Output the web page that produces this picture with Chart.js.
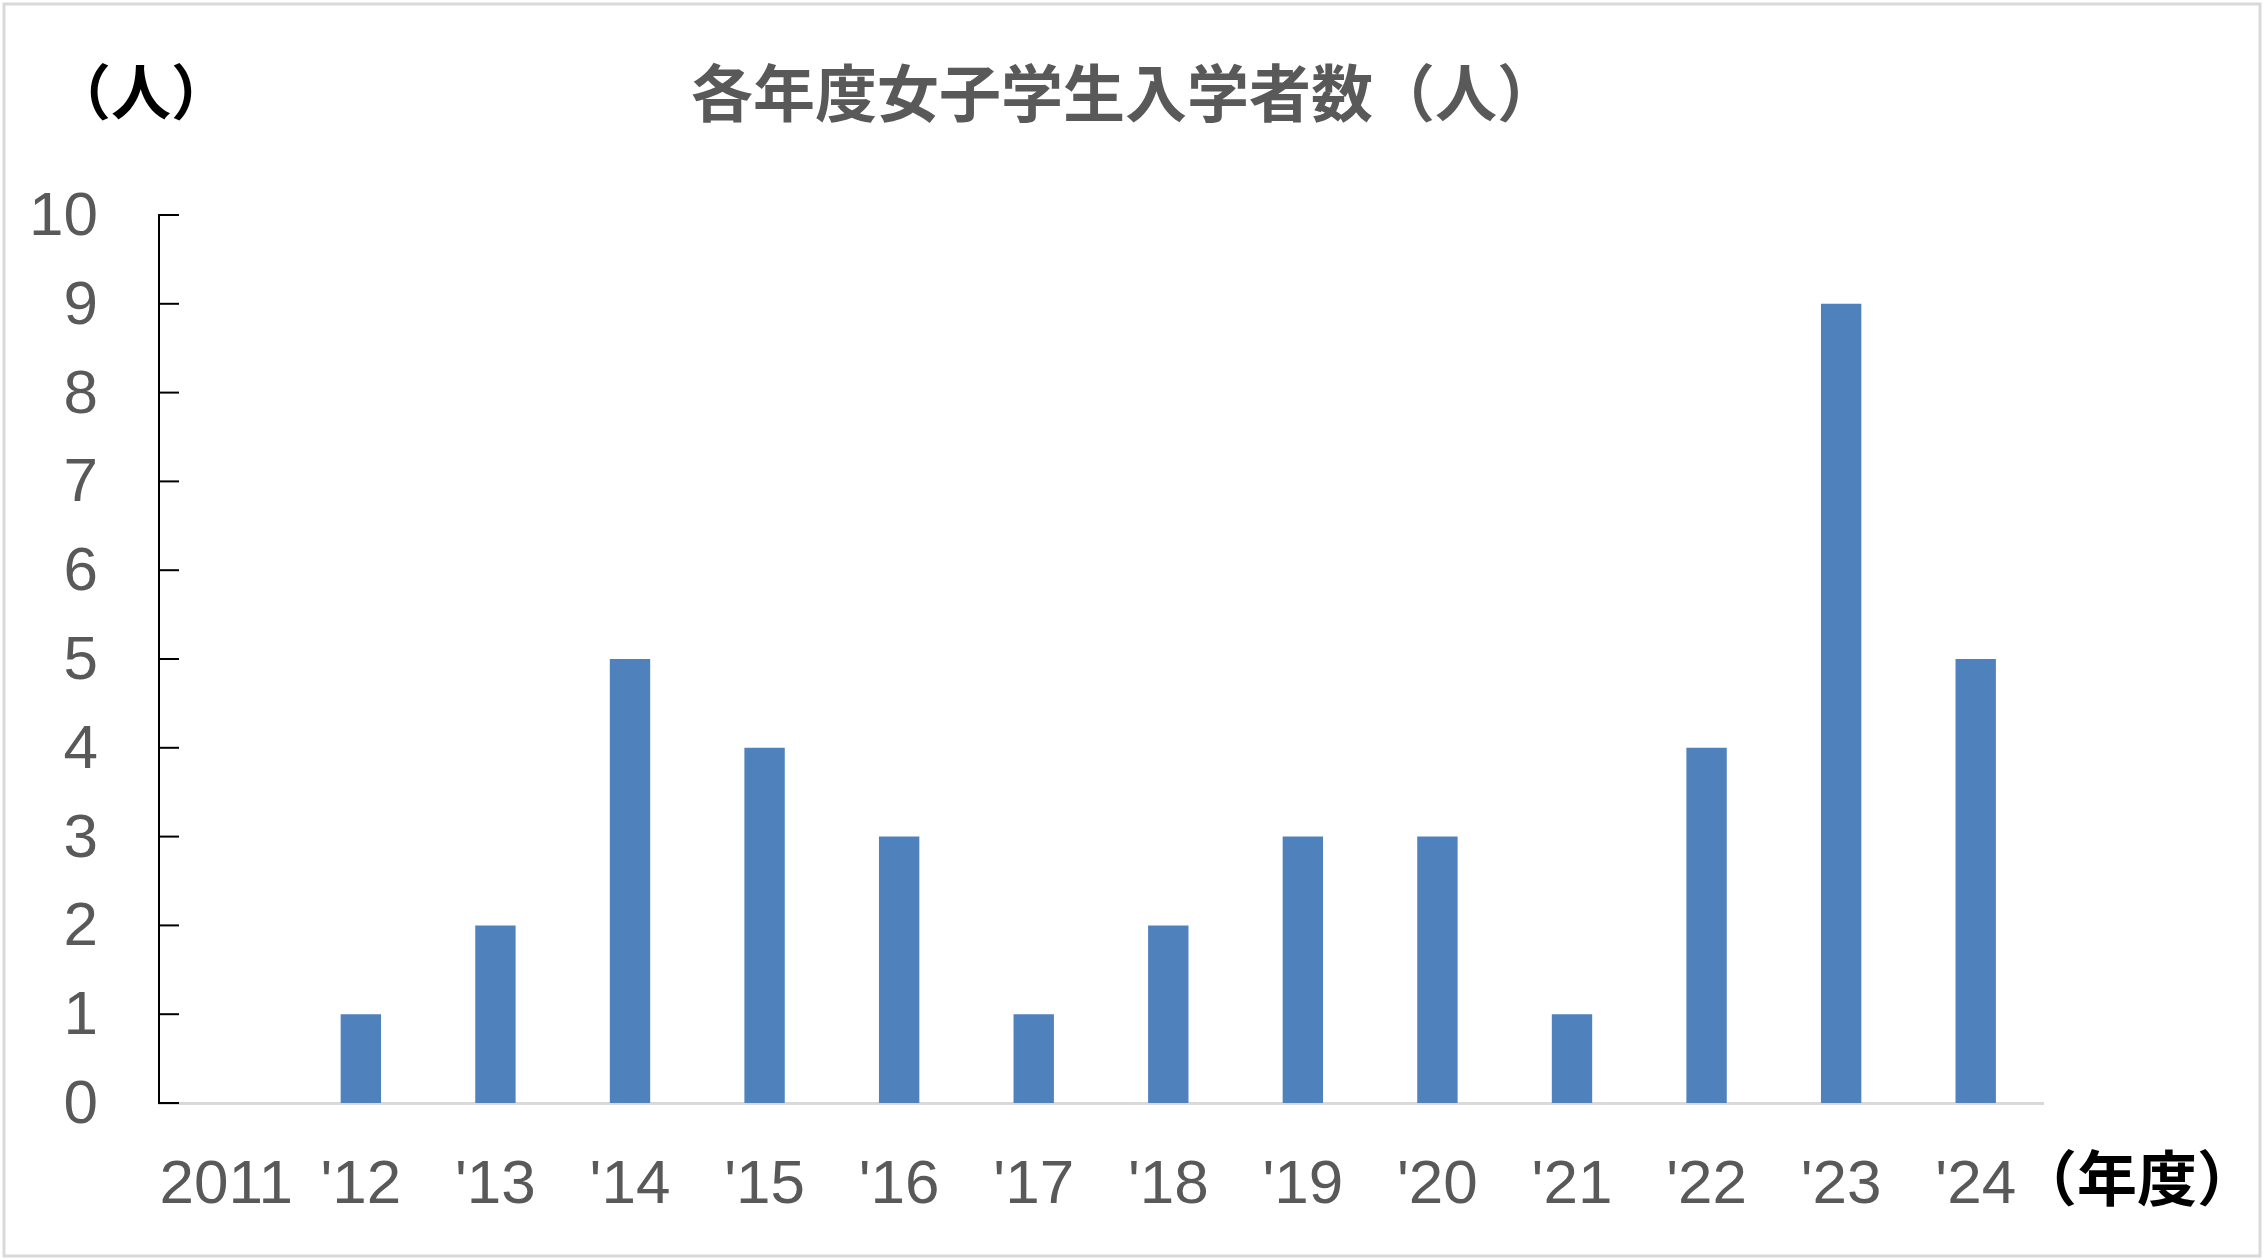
<!DOCTYPE html>
<html>
<head>
<meta charset="utf-8">
<script src="https://cdn.jsdelivr.net/npm/chart.js@4.4.1/dist/chart.umd.min.js"></script>
<style>
    html, body { margin: 0; padding: 0; background: #ffffff; }
    #wrap { width: 2264px; height: 1260px; }
</style>
</head>
<body>
<div id="wrap"><canvas id="barChart" width="2264" height="1260"></canvas></div>
<script>
    // data
    const years = ["2011", "'12", "'13", "'14", "'15", "'16", "'17", "'18", "'19", "'20", "'21", "'22", "'23", "'24"];
    const students = [0, 1, 2, 5, 4, 3, 1, 2, 3, 3, 1, 4, 9, 5];
    const yMin = 0;
    const yMax = 10;
    const yStep = 1;

    const chartTitle = "各年度女子学生入学者数（人）";
    const yUnit = "（人）";
    const xUnit = "（年度）";

    const numFont = '"Liberation Sans Narrow", "Liberation Sans", sans-serif';
    const jpFont = '"Noto Sans CJK JP", "Noto Sans", sans-serif';

    // white page + thin frame, titles, inward ticks on the y axis
    const decor = {
        id: "decor",
        beforeDraw: function (chart) {
            const ctx = chart.ctx;
            ctx.save();
            ctx.fillStyle = "#ffffff";
            ctx.fillRect(0, 0, chart.width, chart.height);
            ctx.strokeStyle = "#d9d9d9";
            ctx.lineWidth = 3;
            ctx.strokeRect(4, 4, chart.width - 8, chart.height - 8);
            ctx.restore();
        },
        afterDraw: function (chart) {
            const ctx = chart.ctx;
            const area = chart.chartArea;
            const y = chart.scales.y;

            ctx.save();
            ctx.strokeStyle = "#000000";
            ctx.lineWidth = 2;
            y.ticks.forEach(function (t) {
                const py = y.getPixelForValue(t.value);
                ctx.beginPath();
                ctx.moveTo(area.left, py);
                ctx.lineTo(area.left + 20, py);
                ctx.stroke();
            });

            ctx.textAlign = "center";
            ctx.textBaseline = "middle";
            ctx.font = "bold 62px " + jpFont;
            ctx.fillStyle = "#595959";
            ctx.fillText(chartTitle, 1125, 93);

            ctx.fillStyle = "#000000";
            ctx.font = "bold 60px " + jpFont;
            ctx.fillText(yUnit, 141, 92);
            ctx.fillText(xUnit, 2137, 1178);
            ctx.restore();
        },
    };

    const chart = new Chart(document.getElementById("barChart"), {
        type: "bar",
        plugins: [decor],
        data: {
            labels: years,
            datasets: [
                {
                    label: "女子学生入学者数",
                    data: students,
                    backgroundColor: "#4f81bd",
                    borderWidth: 0,
                    barPercentage: 0.3,
                    categoryPercentage: 1,
                },
            ],
        },
        options: {
            responsive: false,
            devicePixelRatio: 1,
            animation: false,
            layout: {
                padding: { left: 0, top: 215, right: 221, bottom: 0 },
            },
            plugins: {
                legend: { display: false },
                title: { display: false },
                tooltip: { enabled: false },
            },
            scales: {
                x: {
                    grid: { display: false, drawTicks: false },
                    border: { display: true, color: "#d9d9d9", width: 3 },
                    ticks: {
                        color: "#595959",
                        padding: 46,
                        maxRotation: 0,
                        autoSkip: false,
                        font: { family: numFont, size: 62 },
                    },
                    afterFit: function (scale) {
                        scale.height = 157;
                    },
                },
                y: {
                    min: yMin,
                    max: yMax,
                    grid: { display: false, drawTicks: false },
                    border: { display: true, color: "#000000", width: 2 },
                    ticks: {
                        stepSize: yStep,
                        color: "#595959",
                        padding: 61,
                        labelOffset: 3,
                        font: { family: numFont, size: 62 },
                    },
                    afterFit: function (scale) {
                        scale.width = 159;
                    },
                },
            },
        },
    });
</script>
</body>
</html>
